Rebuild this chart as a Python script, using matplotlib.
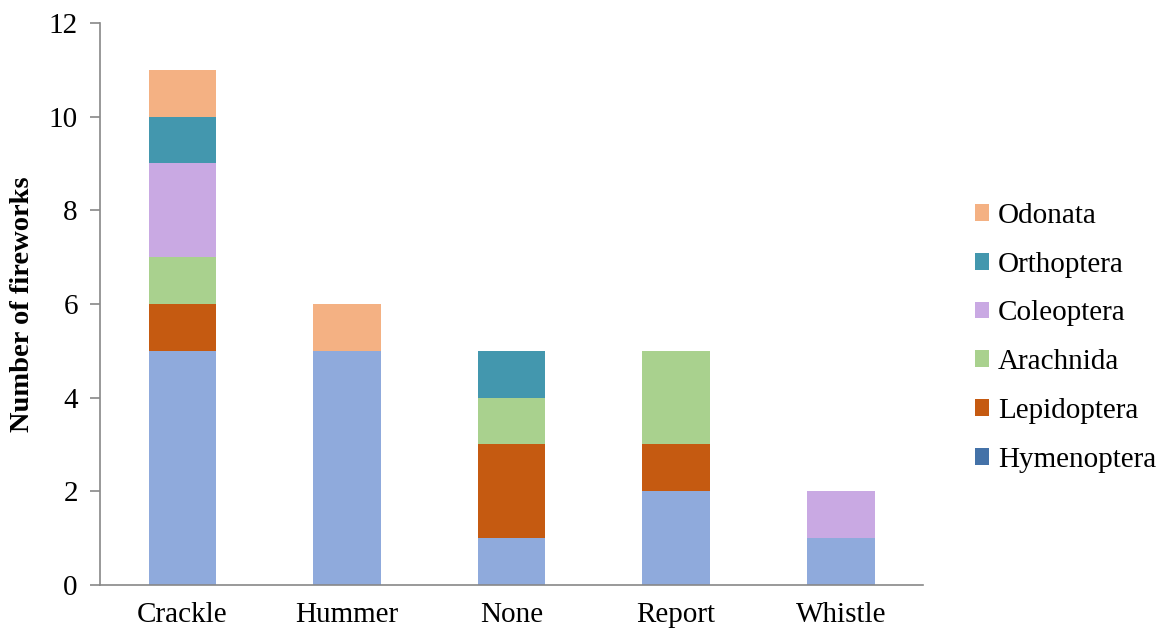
import matplotlib
matplotlib.use("Agg")
import matplotlib.pyplot as plt
from matplotlib.patches import Patch

plt.rcParams['font.family'] = ['Liberation Serif', 'DejaVu Serif']

sounds = ['Crackle', 'Hummer', 'None', 'Report', 'Whistle']

# counts per order, stacked bottom to top
hymenoptera = [5, 5, 1, 2, 1]
lepidoptera = [1, 0, 2, 1, 0]
arachnida = [1, 0, 1, 2, 0]
coleoptera = [2, 0, 0, 0, 1]
orthoptera = [1, 0, 1, 0, 0]
odonata = [1, 1, 0, 0, 0]

series = [
    ('Hymenoptera', hymenoptera, '#8FAADC', '#4472A8'),
    ('Lepidoptera', lepidoptera, '#C55A11', '#C55A11'),
    ('Arachnida', arachnida, '#A9D18E', '#A9D18E'),
    ('Coleoptera', coleoptera, '#C9A9E3', '#C9A9E3'),
    ('Orthoptera', orthoptera, '#4397AE', '#4397AE'),
    ('Odonata', odonata, '#F4B183', '#F4B183'),
]

fig = plt.figure(figsize=(11.63, 6.32), dpi=100)
ax = fig.add_axes([0.086, 0.0744, 0.7077, 0.8892])

x = range(len(sounds))
bottom = [0] * len(sounds)
handles = []
for name, vals, col, legcol in series:
    ax.bar(x, vals, 0.41, bottom=bottom, color=col, linewidth=0)
    bottom = [b + v for b, v in zip(bottom, vals)]
    handles.append(Patch(facecolor=legcol, label=name))

ax.set_xlim(-0.5, len(sounds) - 0.5)
ax.set_ylim(0, 12)
ax.set_yticks(range(0, 13, 2))
ax.set_xticks(list(x))
ax.set_xticklabels(sounds)
ax.tick_params(axis='x', length=0, pad=12, labelsize=21)
ax.tick_params(axis='y', length=7, width=1.2, color='#888888', pad=9, labelsize=21)

for side in ['top', 'right']:
    ax.spines[side].set_visible(False)
for side in ['left', 'bottom']:
    ax.spines[side].set_color('#888888')
    ax.spines[side].set_linewidth(1.2)

ax.set_ylabel('Number of fireworks', fontsize=20.5, fontweight='bold', labelpad=10)

ax.legend(handles=handles[::-1], loc='center left', bbox_to_anchor=(1.0485, 0.44),
          frameon=False, fontsize=21, handlelength=0.5, handleheight=0.5,
          handletextpad=0.3, labelspacing=0.78, borderaxespad=0)

fig.savefig('out.png', dpi=100)
